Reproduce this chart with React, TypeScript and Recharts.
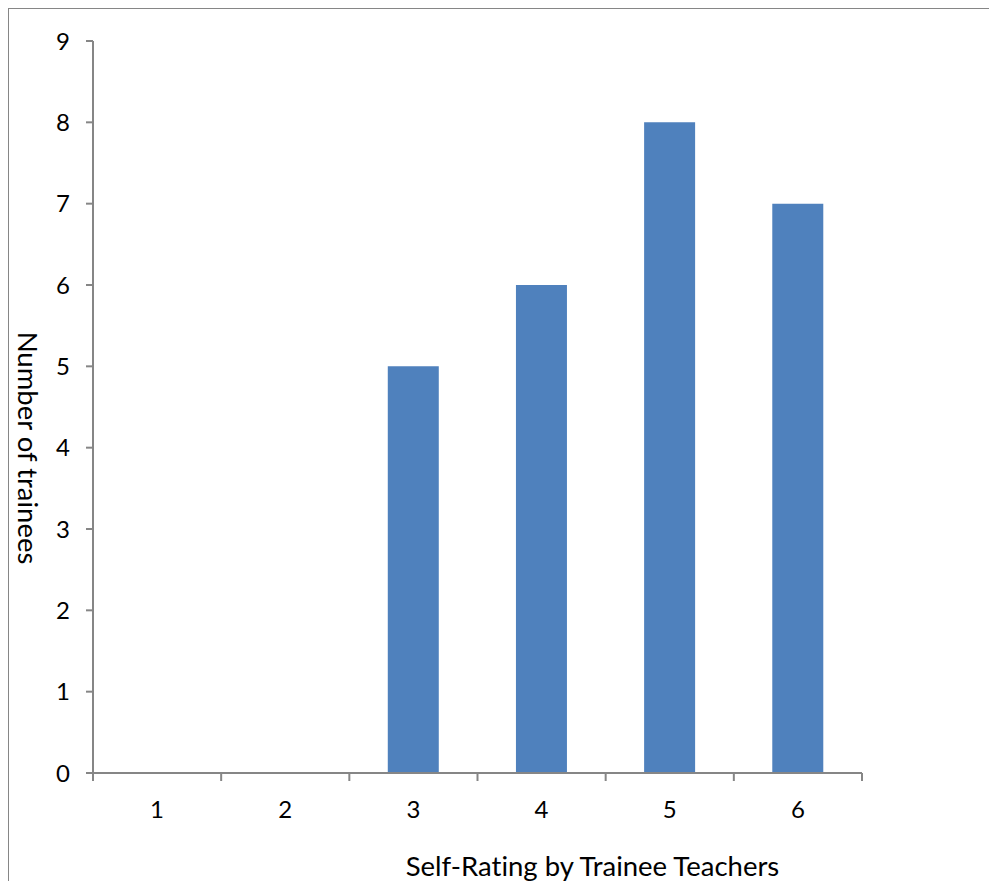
import { BarChart, Bar, XAxis, YAxis, Label } from "recharts";

const ratings = ["1", "2", "3", "4", "5", "6"];
const trainees = [0, 0, 5, 6, 8, 7];
const yTicks = [0, 1, 2, 3, 4, 5, 6, 7, 8, 9];

const data = ratings.map((r, i) => ({ rating: r, count: trainees[i] }));

const axisGray = "#868686";
const font = "Lato, 'Open Sans', sans-serif";
const xTickMargin = 28;

// category label plus tick marks on the band edges, like Excel
const EdgeTick = (props: any) => {
  const { x, y, payload, index, visibleTicksCount } = props;
  const half = payload.offset || 0;
  const isLast = index === visibleTicksCount - 1;
  const y0 = y - xTickMargin;
  return (
    <g>
      <line x1={x - half} x2={x - half} y1={y0} y2={y0 + 8} stroke={axisGray} strokeWidth={2} />
      {isLast && (
        <line x1={x + half} x2={x + half} y1={y0} y2={y0 + 8} stroke={axisGray} strokeWidth={2} />
      )}
      <text x={x} y={y} dy="0.71em" textAnchor="middle" fill="#000" fontSize={24} fontFamily={font}>
        {payload.value}
      </text>
    </g>
  );
};

export default function App() {
  return (
    <div
      style={{
        width: 989,
        height: 874,
        borderTop: `2px solid ${axisGray}`,
        borderLeft: `2px solid ${axisGray}`,
        margin: "-1px 0 0 -1px",
        boxSizing: "border-box",
        fontFamily: font,
        fontVariantLigatures: "none",
      }}
    >
      <BarChart
        width={987}
        height={872}
        data={data}
        margin={{ top: 32, right: 134, left: 0, bottom: 0 }}
        barCategoryGap="30%"
      >
        <XAxis
          dataKey="rating"
          height={108}
          tickLine={false}
          tickSize={0}
          tickMargin={xTickMargin}
          axisLine={{ stroke: axisGray, strokeWidth: 2 }}
          tick={<EdgeTick />}
          interval={0}
        >
          <Label
            value="Self-Rating by Trainee Teachers"
            position="insideBottom"
            offset={5}
            dx={115}
            style={{ fill: "#000", fontSize: 27.5, fontFamily: font }}
          />
        </XAxis>
        <YAxis
          width={84}
          domain={[0, 9]}
          ticks={yTicks}
          interval={0}
          tickSize={7}
          tickMargin={16}
          axisLine={{ stroke: axisGray, strokeWidth: 2 }}
          tickLine={{ stroke: axisGray, strokeWidth: 2 }}
          tick={{ fill: "#000", fontSize: 24, fontFamily: font }}
        >
          <Label
            value="Number of trainees"
            angle={90}
            position="insideLeft"
            offset={19}
            dy={41}
            style={{ fill: "#000", fontSize: 27.5, fontFamily: font, textAnchor: "middle" }}
          />
        </YAxis>
        <Bar dataKey="count" fill="#4F81BD" isAnimationActive={false} />
      </BarChart>
    </div>
  );
}
